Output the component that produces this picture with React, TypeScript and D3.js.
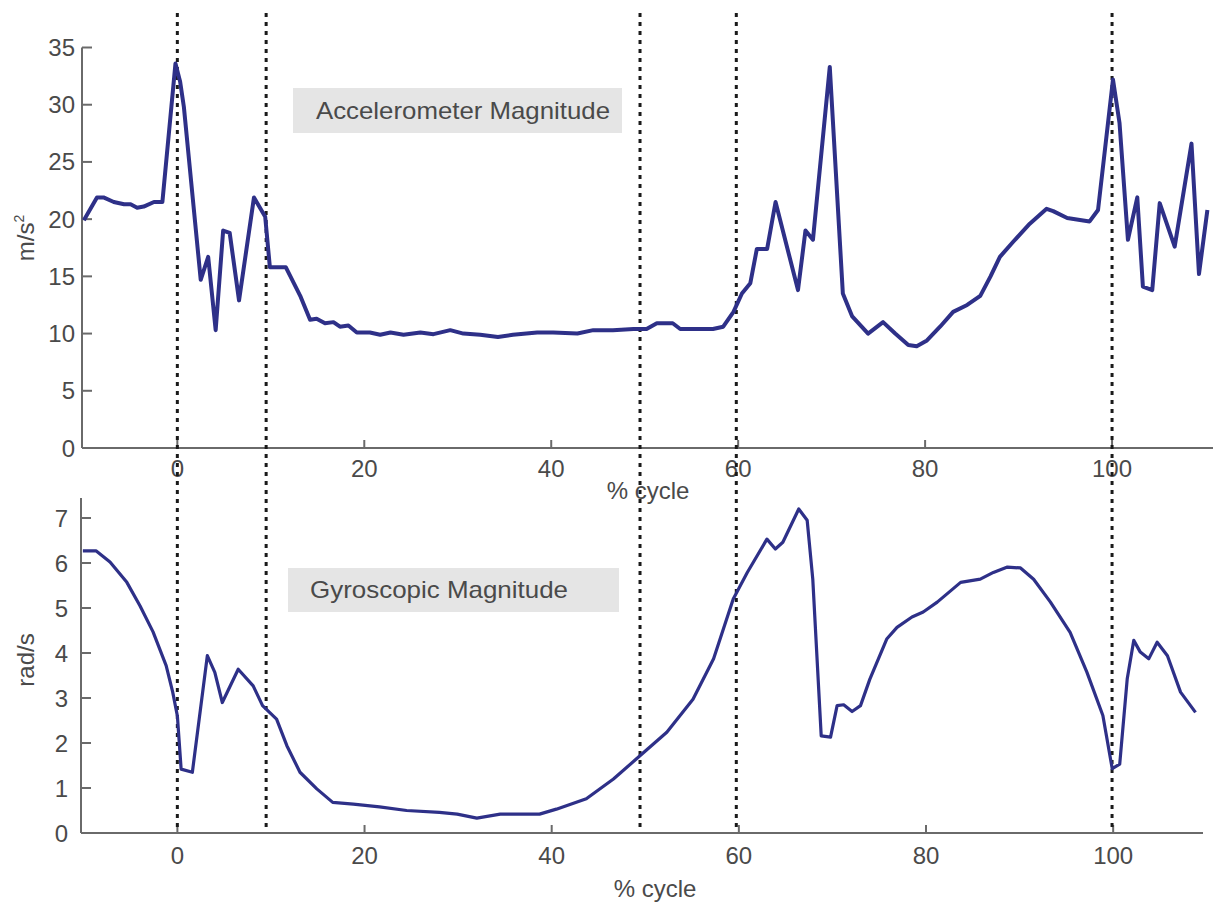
import React from "react";
import * as d3 from "d3";

// accelerometer magnitude (m/s^2) vs % cycle
const accelX = [-10, -8.6, -7.9, -6.8, -5.7, -5, -4.3, -3.6, -2.5, -1.6, -0.2, 0.3, 0.7, 2.5, 3.3, 4.1, 4.9, 5.6, 6.6, 8.2, 9.4, 9.9, 11.6, 13.2, 14.2, 14.9, 15.8, 16.7, 17.4, 18.3, 19.2, 20.6, 21.7, 22.8, 24.2, 26.0, 27.4, 29.2, 30.6, 32.4, 34.3, 35.9, 38.5, 40.2, 42.8, 44.5, 46.6, 48.8, 50.2, 51.3, 53.0, 53.8, 55.6, 57.3, 58.4, 59.5, 60.4, 61.3, 62.0, 63.1, 64.0, 66.4, 67.2, 68.0, 69.8, 71.2, 72.2, 73.9, 75.5, 76.8, 78.2, 79.1, 80.2, 81.6, 83.0, 84.5, 85.9, 87.0, 88.0, 89.4, 91.2, 93.0, 93.7, 95.2, 97.6, 98.5, 100.1, 100.8, 101.7, 102.7, 103.3, 104.3, 105.1, 106.7, 108.5, 109.3, 110.2];
const accelY = [19.9, 21.9, 21.9, 21.5, 21.3, 21.3, 21.0, 21.1, 21.5, 21.5, 33.6, 32.0, 29.8, 14.7, 16.7, 10.3, 19.0, 18.8, 12.9, 21.9, 20.2, 15.8, 15.8, 13.2, 11.2, 11.3, 10.9, 11.0, 10.6, 10.7, 10.1, 10.1, 9.9, 10.1, 9.9, 10.1, 9.95, 10.3, 10.0, 9.9, 9.7, 9.9, 10.1, 10.1, 10.0, 10.3, 10.3, 10.4, 10.4, 10.9, 10.9, 10.4, 10.4, 10.4, 10.6, 11.9, 13.5, 14.4, 17.4, 17.4, 21.5, 13.8, 19.0, 18.2, 33.3, 13.5, 11.5, 10.0, 11.0, 10.0, 9.0, 8.9, 9.4, 10.6, 11.9, 12.5, 13.3, 15.0, 16.7, 18.0, 19.6, 20.9, 20.7, 20.1, 19.8, 20.8, 32.2, 28.4, 18.2, 21.9, 14.1, 13.8, 21.4, 17.6, 26.6, 15.2, 20.8];

// gyroscopic magnitude (rad/s) vs % cycle
const gyroX = [-10.1, -8.7, -7.2, -5.4, -4.0, -2.6, -1.2, -0.5, 0, 0.4, 1.6, 3.2, 4.0, 4.8, 6.5, 8.1, 9.1, 10.6, 11.7, 13.1, 14.9, 16.6, 18.8, 21.6, 24.5, 28.0, 29.9, 32.0, 34.5, 38.7, 40.5, 43.7, 46.6, 49.4, 52.3, 55.1, 57.3, 59.4, 60.9, 63.0, 63.9, 64.7, 66.4, 67.3, 67.9, 68.8, 69.8, 70.5, 71.2, 72.1, 73.0, 74.0, 75.8, 76.9, 78.5, 79.7, 81.2, 83.7, 85.8, 87.2, 88.7, 90.1, 91.5, 93.3, 95.4, 97.2, 98.9, 99.9, 100.7, 101.5, 102.2, 102.9, 103.8, 104.7, 105.8, 107.2, 108.8];
const gyroY = [6.27, 6.27, 6.02, 5.57, 5.05, 4.47, 3.72, 3.13, 2.6, 1.42, 1.35, 3.94, 3.57, 2.9, 3.64, 3.27, 2.83, 2.53, 1.94, 1.35, 0.98, 0.68, 0.64, 0.58, 0.5, 0.46, 0.42, 0.33, 0.42, 0.42, 0.53, 0.76, 1.2, 1.71, 2.24, 2.97, 3.87, 5.2, 5.79, 6.53, 6.31, 6.46, 7.2, 6.95, 5.64, 2.16, 2.13, 2.83, 2.85, 2.7, 2.83, 3.42, 4.31, 4.57, 4.8, 4.91, 5.13, 5.57, 5.64, 5.79, 5.91, 5.89, 5.64, 5.13, 4.46, 3.57, 2.61, 1.43, 1.53, 3.42, 4.28, 4.02, 3.87, 4.24, 3.94, 3.13, 2.68];

const eventLines = [0, 9.5, 49.5, 59.8, 100];
const xTicks = [0, 20, 40, 60, 80, 100];
const accelTicks = [0, 5, 10, 15, 20, 25, 30, 35];
const gyroTicks = [0, 1, 2, 3, 4, 5, 6, 7];

const font = "'Liberation Sans', Arial, Helvetica, sans-serif";
const textColor = "#4a4a4a";
const axisColor = "#6a6a6a";
const lineColor = "#2e3088";

export default function App() {
  // top panel
  const xTop = d3.scaleLinear().domain([-10.2, 110.8]).range([82, 1213]);
  const yTop = d3.scaleLinear().domain([0, 35]).range([448, 47.5]);
  // bottom panel
  const xBot = d3.scaleLinear().domain([-10.3, 109.6]).range([81, 1203]);
  const yBot = d3.scaleLinear().domain([0, 7]).range([833, 518]);

  const accelPts: [number, number][] = accelX.map((x, i) => [x, accelY[i]]);
  const gyroPts: [number, number][] = gyroX.map((x, i) => [x, gyroY[i]]);

  const topLine = d3
    .line<[number, number]>()
    .x((d) => xTop(d[0]))
    .y((d) => yTop(d[1]));
  const botLine = d3
    .line<[number, number]>()
    .x((d) => xBot(d[0]))
    .y((d) => yBot(d[1]));

  const fs = 24;

  return (
    <svg
      width={1217}
      height={908}
      style={{ position: "absolute", left: 0, top: 0, background: "#fff" }}
      fontFamily={font}
    >
      {/* top panel axes */}
      <g stroke={axisColor} strokeWidth={2} fill="none">
        <line x1={xTop.range()[0]} x2={xTop.range()[1]} y1={448} y2={448} />
        <line x1={82} x2={82} y1={47.5} y2={448} />
        {accelTicks.map((t) => (
          <line key={"ya" + t} x1={82} x2={92} y1={yTop(t)} y2={yTop(t)} />
        ))}
        {xTicks.map((t) => (
          <line key={"xa" + t} x1={xTop(t)} x2={xTop(t)} y1={448} y2={440} />
        ))}
      </g>
      <g fill={textColor} fontSize={fs}>
        {accelTicks.map((t) => (
          <text key={"yal" + t} x={75} y={yTop(t) + 8.5} textAnchor="end">
            {t}
          </text>
        ))}
        {xTicks.map((t) => (
          <text key={"xal" + t} x={xTop(t)} y={477} textAnchor="middle">
            {t}
          </text>
        ))}
        <text x={648} y={499} textAnchor="middle">% cycle</text>
        <text transform="translate(34,238) rotate(-90)" textAnchor="middle">
          m/s<tspan dy={-10} fontSize={14}>2</tspan>
        </text>
      </g>
      <rect x={293} y={88} width={329} height={45} fill="#e5e5e5" />
      <text x={316} y={119} fontSize={fs} fill={textColor} textLength={294} lengthAdjust="spacingAndGlyphs">
        Accelerometer Magnitude
      </text>

      {/* bottom panel axes */}
      <g stroke={axisColor} strokeWidth={2} fill="none">
        <line x1={xBot.range()[0]} x2={xBot.range()[1]} y1={833} y2={833} />
        <line x1={81} x2={81} y1={498} y2={833} />
        {gyroTicks.map((t) => (
          <line key={"yg" + t} x1={81} x2={91} y1={yBot(t)} y2={yBot(t)} />
        ))}
        {xTicks.map((t) => (
          <line key={"xg" + t} x1={xBot(t)} x2={xBot(t)} y1={833} y2={825} />
        ))}
      </g>
      <g fill={textColor} fontSize={fs}>
        {gyroTicks.map((t) => (
          <text key={"ygl" + t} x={68} y={yBot(t) + 8.5} textAnchor="end">
            {t}
          </text>
        ))}
        {xTicks.map((t) => (
          <text key={"xgl" + t} x={xBot(t)} y={864} textAnchor="middle">
            {t}
          </text>
        ))}
        <text x={655} y={897} textAnchor="middle">% cycle</text>
        <text transform="translate(34,660) rotate(-90)" textAnchor="middle">
          rad/s
        </text>
      </g>
      <rect x={288} y={568} width={331} height={44} fill="#e5e5e5" />
      <text x={310} y={598} fontSize={fs} fill={textColor} textLength={258} lengthAdjust="spacingAndGlyphs">
        Gyroscopic Magnitude
      </text>

      {/* event markers */}
      <g stroke="#1a1a1a" strokeWidth={3} strokeDasharray="4,5">
        {eventLines.map((e) => (
          <line key={"ev" + e} x1={xTop(e)} x2={xTop(e)} y1={13} y2={832} />
        ))}
      </g>

      {/* signals */}
      <path
        d={topLine(accelPts) || ""}
        fill="none"
        stroke={lineColor}
        strokeWidth={4}
        strokeLinejoin="round"
      />
      <path
        d={botLine(gyroPts) || ""}
        fill="none"
        stroke={lineColor}
        strokeWidth={3.2}
        strokeLinejoin="round"
      />
    </svg>
  );
}
